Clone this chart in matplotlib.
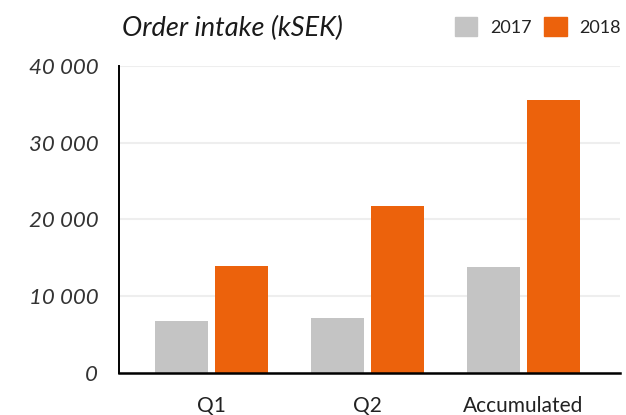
import numpy as np
import matplotlib
matplotlib.use("Agg")
import matplotlib.pyplot as plt
from matplotlib.patches import Patch
from matplotlib.ticker import FuncFormatter

# data
categories = ["Q1", "Q2", "Accumulated"]
years = ["2017", "2018"]
values_2017 = [6700, 7100, 13800]
values_2018 = [13900, 21700, 35600]
yticks = [0, 10000, 20000, 30000, 40000]

grey = "#c4c4c4"
orange = "#ec620c"

plt.rcParams["font.family"] = ["Lato", "DejaVu Sans"]

fig = plt.figure(figsize=(6.26, 4.15), dpi=100)
ax = fig.add_axes([119 / 626, 42.3 / 415, 501 / 626, 306.7 / 415])

x = np.arange(len(categories))
w = 0.34
off = 0.193
ax.bar(x - off, values_2017, w, color=grey, zorder=2)
ax.bar(x + off, values_2018, w, color=orange, zorder=2)

ax.set_xlim(-0.595, 2.62)
ax.set_ylim(0, 40000)
ax.set_yticks(yticks)
ax.yaxis.set_major_formatter(FuncFormatter(lambda v, p: f"{int(v):,}".replace(",", " ")))
ax.set_xticks(x)
ax.set_xticklabels(categories)

ax.grid(axis="y", color="#eeeeee", linewidth=1.5, zorder=0)
for s in ["top", "right"]:
    ax.spines[s].set_visible(False)
ax.spines["left"].set_linewidth(1.4)
ax.spines["bottom"].set_linewidth(1.8)

ax.tick_params(axis="y", length=0, pad=15, labelsize=16, labelcolor="#333333")
ax.tick_params(axis="x", length=0, pad=17, labelsize=15, labelcolor="#222222")
for lab in ax.get_yticklabels():
    lab.set_fontstyle("italic")

fig.text(122 / 626, 1 - 36 / 415, "Order intake (kSEK)", fontsize=19.5,
         style="italic", color="#1a1a1a", va="baseline")

handles = [Patch(color=grey), Patch(color=orange)]
fig.legend(handles, years, loc="upper right", bbox_to_anchor=(621 / 626, 1 - 17 / 415),
           ncol=2, frameon=False, fontsize=13, handlelength=1.25, handleheight=1.25,
           handletextpad=0.7, columnspacing=0.7, borderpad=0, borderaxespad=0,
           labelcolor="#222222")

fig.savefig("out.png", dpi=100)
